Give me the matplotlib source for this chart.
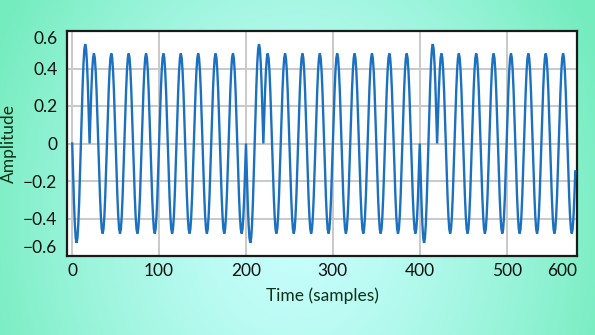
import numpy as np
import matplotlib
matplotlib.use("Agg")
import matplotlib.pyplot as plt
from matplotlib.colors import to_rgb

# Signal description: a steady tone of period 20 samples that is re-triggered
# every 200 samples; each re-trigger starts with one inverted, slightly louder cycle.
n_samples = 580
segment_starts = [0, 200, 400]
period = 20
amplitude = 0.48
onset_amplitude = 0.53
onset_length = 20

x_ticks = [0, 100, 200, 300, 400, 500]
x_tick_labels = ["0", "100", "200", "300", "400", "500", "600"]
y_ticks = [-0.6, -0.4, -0.2, 0.0, 0.2, 0.4, 0.6]
y_tick_labels = ["\u22120.6", "\u22120.4", "\u22120.2", "0", "0.2", "0.4", "0.6"]

t = np.arange(n_samples)
phase = np.sin(2 * np.pi * t / period)
y = amplitude * phase
for s in segment_starts:
    onset = (t >= s) & (t < s + onset_length)
    y[onset] = -onset_amplitude * phase[onset]

W, H = 595, 335
fig = plt.figure(figsize=(W / 100, H / 100), dpi=100)

# radial backdrop: pale cyan centre fading to mint green at the edges
bg = fig.add_axes([0, 0, 1, 1], zorder=-10)
yy, xx = np.mgrid[0:H, 0:W]
d = np.sqrt(((xx - 295) / 330.0) ** 2 + ((yy - 220) / 420.0) ** 2)
d = np.clip(d, 0, 1) ** 1.4
c0 = np.array(to_rgb("#c8fefd"))
c1 = np.array(to_rgb("#74ecbe"))
img = c0[None, None, :] * (1 - d[..., None]) + c1[None, None, :] * d[..., None]
bg.imshow(img, aspect="auto", interpolation="bilinear")
bg.set_axis_off()

plt.rcParams["font.family"] = ["Lato", "DejaVu Sans"]

ax = fig.add_axes([67 / W, 1 - 256 / H, (577 - 67) / W, (256 - 31) / H])
ax.set_facecolor("white")
ax.plot(t, y, color="#1c70c0", lw=1.7, solid_joinstyle="miter", zorder=3)

x_right = 581
ax.set_xlim(-6, x_right)
ax.set_ylim(-0.6, 0.6)

ax.set_xticks(x_ticks + [x_right])
ax.set_xticklabels(x_tick_labels)
ax.set_yticks(y_ticks)
ax.set_yticklabels(y_tick_labels)

ax.grid(True, color="#c9c9c9", lw=1.4, zorder=0)
ax.set_axisbelow(True)
ax.tick_params(axis="both", length=0, labelsize=12.5, colors="#111111")
ax.tick_params(axis="x", pad=5)
ax.tick_params(axis="y", pad=7)

# edge labels are kept inside the frame
xt = ax.xaxis.get_major_ticks()
xt[-1].label1.set_horizontalalignment("right")
yt = ax.yaxis.get_major_ticks()
yt[0].label1.set_verticalalignment("bottom")
yt[-1].label1.set_verticalalignment("top")

for sp in ax.spines.values():
    sp.set_color("#1a1a1a")
    sp.set_linewidth(1.6)

ax.set_xlabel("Time (samples)", fontsize=12.5, color="#0d3318", labelpad=6)
ax.set_ylabel("Amplitude", fontsize=12.5, color="#0d3318", labelpad=4)

fig.savefig("out.png", dpi=100)
